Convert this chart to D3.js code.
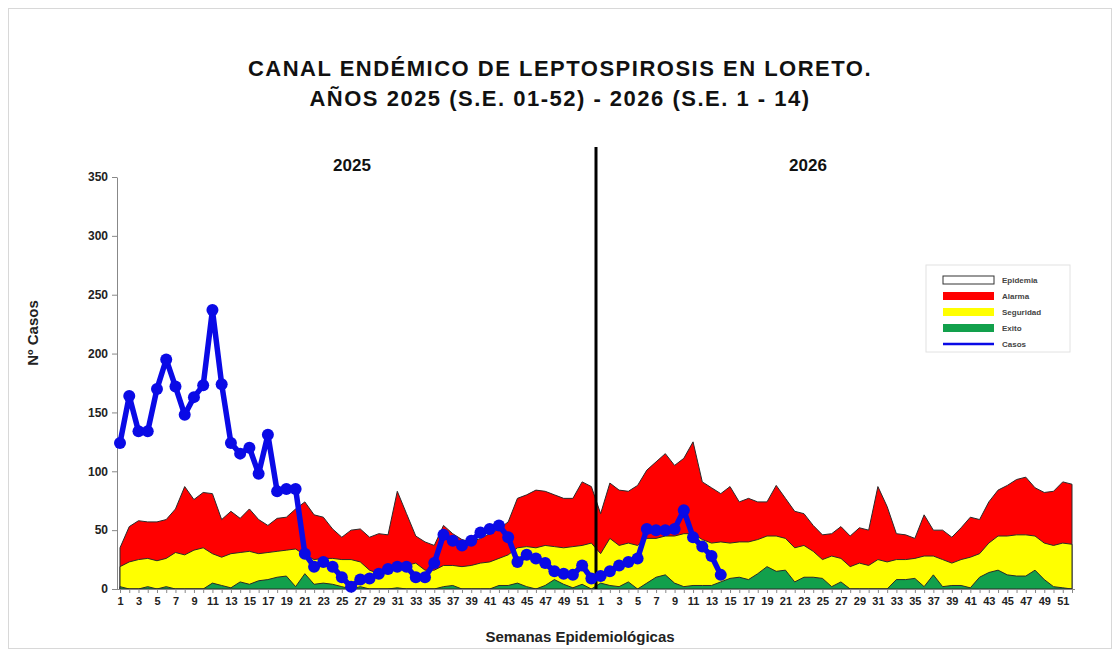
<!DOCTYPE html>
<html>
<head>
<meta charset="utf-8">
<script src="https://cdn.jsdelivr.net/npm/d3@7"></script>
<style>
  body { margin: 0; background: #fff; }
  svg { font-family: "Liberation Sans", Arial, sans-serif; }
</style>
</head>
<body>
<div class="graph"></div>
<script>
// Semanas epidemiologicas (52 por año)
var semanas = d3.range(1, 53);

// Canal endemico 2025
var alarma2025 = [35, 53, 58, 57, 57, 59, 68, 87, 76, 82, 81, 59, 66, 60, 68, 59, 54, 60, 61, 68,
  74, 63, 61, 51, 44, 50, 51, 44, 47, 46, 83, 64, 45, 40, 37, 54, 47, 42, 40, 43,
  47, 51, 57, 77, 80, 84, 83, 80, 77, 77, 91, 87];
var seguridad2025 = [19, 23, 25, 26, 24, 26, 31, 29, 33, 35, 30, 27, 30, 31, 32, 30, 31, 32, 33, 34,
  29, 25, 26, 26, 25, 25, 23, 16, 13, 13, 19, 20, 22, 16, 16, 20, 20, 19, 20, 22,
  23, 26, 29, 35, 36, 35, 37, 36, 35, 36, 37, 39];
var exito2025 = [2, 0, 0, 2, 0, 2, 0, 0, 0, 0, 5, 3, 1, 6, 4, 7, 8, 10, 11, 2,
  13, 4, 5, 4, 2, 0, 2, 0, 0, 0, 1, 0, 0, 0, 0, 2, 3, 0, 0, 0,
  0, 3, 3, 5, 2, 0, 3, 8, 4, 1, 4, 0];

// Canal endemico 2026
var alarma2026 = [64, 90, 84, 83, 88, 101, 108, 115, 105, 111, 125, 91, 86, 81, 87, 74, 77, 74, 74, 88,
  77, 66, 64, 54, 46, 47, 53, 45, 52, 50, 87, 70, 47, 46, 43, 63, 50, 50, 44, 52,
  61, 59, 74, 84, 88, 93, 95, 86, 82, 83, 91, 89];
var seguridad2026 = [30, 43, 37, 39, 37, 43, 43, 45, 45, 47, 47, 42, 39, 40, 39, 40, 40, 42, 45, 45,
  43, 35, 37, 32, 25, 28, 26, 19, 22, 20, 25, 23, 25, 25, 26, 28, 28, 25, 22, 25,
  27, 30, 39, 45, 45, 46, 46, 45, 39, 37, 39, 38];
var exito2026 = [5, 3, 2, 6, 0, 5, 10, 12, 5, 2, 3, 3, 3, 6, 9, 10, 8, 13, 19, 15,
  16, 6, 10, 10, 9, 2, 6, 0, 0, 0, 0, 0, 8, 8, 9, 2, 12, 2, 3, 3,
  1, 10, 14, 16, 12, 11, 11, 16, 8, 2, 1, 0];

// Casos notificados
var casos2025 = [124, 164, 134, 134, 170, 195, 172, 148, 163, 173, 237, 174, 124, 115, 120, 98, 131, 83, 85, 85,
  30, 19, 23, 19, 10, 2, 8, 9, 13, 17, 19, 19, 10, 10, 22, 46, 41, 37, 41, 48,
  51, 54, 44, 23, 29, 26, 22, 15, 13, 12, 20, 9];
var casos2026 = [11, 15, 20, 23, 26, 51, 50, 50, 51, 67, 44, 36, 28, 12];

var yTicks = [0, 50, 100, 150, 200, 250, 300, 350];
var legendItems = ["Epidemia", "Alarma", "Seguridad", "Exito", "Casos"];

graph();

function graph() {
  var W = 1120, H = 652;

  var svg = d3.select(".graph")
    .append("svg")
    .attr("width", W)
    .attr("height", H);

  // Outer frame
  svg.append("rect")
    .attr("x", 8.5).attr("y", 8.5)
    .attr("width", W - 17).attr("height", H - 12)
    .style("fill", "none")
    .style("stroke", "#d8d8d8");

  // Build the continuous series over both years
  var canal = [];
  semanas.forEach(function(s, i) {
    canal.push({anio: 2025, sem: s, alarma: alarma2025[i], seguridad: seguridad2025[i], exito: exito2025[i]});
  });
  semanas.forEach(function(s, i) {
    canal.push({anio: 2026, sem: s, alarma: alarma2026[i], seguridad: seguridad2026[i], exito: exito2026[i]});
  });
  var casos = casos2025.concat(casos2026);

  var x = d3.scaleLinear()
    .domain([0, canal.length - 1])
    .range([120, 1072]);

  var y = d3.scaleLinear()
    .domain([0, 350])
    .range([589, 177]);

  // Areas: red (alarma), yellow (seguridad), green (exito)
  var layers = [
    {key: "alarma", color: "#ff0000"},
    {key: "seguridad", color: "#ffff00"},
    {key: "exito", color: "#12a04c"}
  ];
  layers.forEach(function(l) {
    var area = d3.area()
      .x(function(d, i) { return x(i); })
      .y0(y(0))
      .y1(function(d) { return y(d[l.key]); });
    svg.append("path")
      .datum(canal)
      .attr("d", area)
      .style("fill", l.color)
      .style("stroke", "#2a2a2a")
      .style("stroke-width", 1);
  });

  // Y axis
  var yAxis = svg.append("g")
    .attr("transform", "translate(117,0)")
    .call(d3.axisLeft(y).tickValues(yTicks).tickSize(5).tickSizeOuter(0));
  yAxis.select(".domain").style("stroke", "#888");
  yAxis.selectAll(".tick line").style("stroke", "#888");
  yAxis.selectAll("text")
    .attr("x", -9)
    .style("font-size", "12px")
    .style("font-weight", "bold")
    .style("fill", "#222")
    .style("font-family", "Liberation Sans, Arial, sans-serif");

  // X axis: a tick for each week, labels on odd weeks
  var xAxis = svg.append("g")
    .attr("transform", "translate(0,589)")
    .call(d3.axisBottom(x)
      .tickValues(d3.range(canal.length))
      .tickSize(4)
      .tickSizeOuter(0)
      .tickFormat(function(i) { return canal[i].sem % 2 === 1 ? canal[i].sem : ""; }));
  xAxis.select(".domain")
    .attr("d", "M117,0.5H1075")
    .style("stroke", "#888");
  xAxis.selectAll(".tick line").style("stroke", "#888");
  xAxis.selectAll("text")
    .attr("y", 8)
    .style("font-size", "11px")
    .style("font-weight", "bold")
    .style("fill", "#222")
    .style("font-family", "Liberation Sans, Arial, sans-serif");

  // Separator between years
  svg.append("line")
    .attr("x1", (x(51) + x(52)) / 2).attr("x2", (x(51) + x(52)) / 2)
    .attr("y1", 147).attr("y2", 589)
    .style("stroke", "#000")
    .style("stroke-width", 3);

  // Cases line with markers
  var line = d3.line()
    .x(function(d, i) { return x(i); })
    .y(function(d) { return y(d); });
  svg.append("path")
    .datum(casos)
    .attr("d", line)
    .style("fill", "none")
    .style("stroke", "#0a0ae6")
    .style("stroke-width", 5.5)
    .style("stroke-linejoin", "round");
  svg.selectAll(".dot")
    .data(casos)
    .enter()
    .append("circle")
      .attr("class", "dot")
      .attr("cx", function(d, i) { return x(i); })
      .attr("cy", function(d) { return y(d); })
      .attr("r", 6)
      .style("fill", "#0a0ae6");

  // Titles
  var t = svg.append("text")
    .attr("x", 560)
    .attr("text-anchor", "middle")
    .style("font-size", "22px")
    .style("font-weight", "bold")
    .style("letter-spacing", "1.5px")
    .style("fill", "#111");
  t.append("tspan").attr("x", 560).attr("y", 76).text("CANAL ENDÉMICO DE LEPTOSPIROSIS EN LORETO.");
  t.append("tspan").attr("x", 560).attr("y", 106).text("AÑOS 2025 (S.E. 01-52) - 2026 (S.E. 1 - 14)");

  svg.append("text")
    .attr("x", 352).attr("y", 171)
    .attr("text-anchor", "middle")
    .style("font-size", "17px").style("font-weight", "bold").style("fill", "#111")
    .text("2025");
  svg.append("text")
    .attr("x", 808).attr("y", 171)
    .attr("text-anchor", "middle")
    .style("font-size", "17px").style("font-weight", "bold").style("fill", "#111")
    .text("2026");

  svg.append("text")
    .attr("transform", "translate(38,333) rotate(-90)")
    .attr("text-anchor", "middle")
    .style("font-size", "15px").style("font-weight", "bold").style("fill", "#222")
    .text("Nº Casos");

  svg.append("text")
    .attr("x", 580).attr("y", 642)
    .attr("text-anchor", "middle")
    .style("font-size", "15px").style("font-weight", "bold").style("fill", "#222")
    .text("Semanas Epidemiológicas");

  // Legend
  var lg = svg.append("g").attr("transform", "translate(926,265)");
  lg.append("rect")
    .attr("width", 144).attr("height", 87)
    .style("fill", "#fff")
    .style("stroke", "#e2e2e2");
  var legColors = ["#fff", "#ff0000", "#ffff00", "#12a04c", "#0a0ae6"];
  legendItems.forEach(function(name, i) {
    var row = lg.append("g").attr("transform", "translate(0," + (15 + i * 16) + ")");
    if (name === "Casos") {
      row.append("line")
        .attr("x1", 17).attr("x2", 68)
        .style("stroke", legColors[i]).style("stroke-width", 2.5);
    } else {
      row.append("rect")
        .attr("x", 17).attr("y", -4)
        .attr("width", 51).attr("height", 8)
        .style("fill", legColors[i])
        .style("stroke", name === "Epidemia" ? "#333" : "none");
    }
    row.append("text")
      .attr("x", 76).attr("y", 3)
      .style("font-size", "8px").style("font-weight", "bold").style("fill", "#444")
      .text(name);
  });
}
</script>
</body>
</html>
